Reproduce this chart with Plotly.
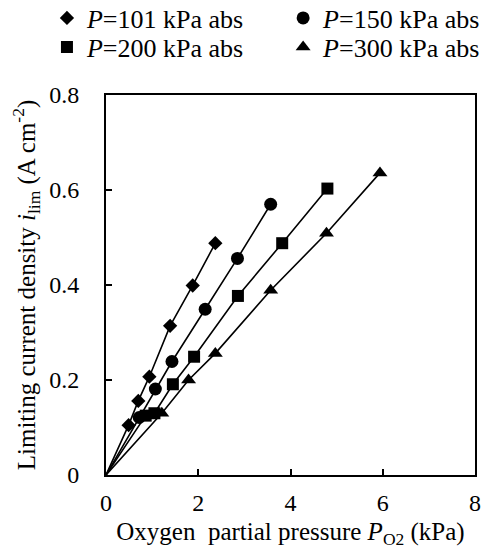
import plotly.graph_objects as go

x101 = [0, 0.49, 0.70, 0.94, 1.39, 1.88, 2.37]
y101 = [0, 0.105, 0.156, 0.207, 0.314, 0.399, 0.488]
x150 = [0, 0.72, 1.07, 1.43, 2.15, 2.85, 3.57]
y150 = [0, 0.121, 0.181, 0.239, 0.349, 0.456, 0.570]
x200 = [0, 0.86, 1.05, 1.45, 1.91, 2.86, 3.82, 4.80]
y200 = [0, 0.125, 0.130, 0.191, 0.249, 0.377, 0.488, 0.603]
x300 = [0, 1.21, 1.79, 2.37, 3.57, 4.78, 5.94]
y300 = [0, 0.130, 0.200, 0.256, 0.389, 0.509, 0.636]

names = ["<i>P</i>=101 kPa abs", "<i>P</i>=150 kPa abs", "<i>P</i>=200 kPa abs", "<i>P</i>=300 kPa abs"]
symbols = ["diamond", "circle", "square", "triangle-up"]
sizes = [11, 13, 12, 13]
legends = ["legend", "legend2", "legend3", "legend4"]
xs = [x101, x150, x200, x300]
ys = [y101, y150, y200, y300]

xticks = [0, 2, 4, 6, 8]
xticktext = ["0", "2", "4", "6", "8"]
yticks = [0, 0.2, 0.4, 0.6, 0.8]
yticktext = ["0", "0.2", "0.4", "0.6", "0.8"]

fig = go.Figure()
for i in range(4):
    msize = [0] + [sizes[i]] * (len(xs[i]) - 1)
    fig.add_trace(go.Scatter(
        x=xs[i], y=ys[i], mode="lines+markers", name=names[i],
        line=dict(color="black", width=1.6),
        marker=dict(symbol=symbols[i], size=msize, color="black", opacity=1, line=dict(width=0)),
        showlegend=False,
    ))
for i in range(4):
    fig.add_trace(go.Scatter(
        x=[None], y=[None], mode="markers", name=names[i], legend=legends[i],
        xaxis="x2", yaxis="y2",
        marker=dict(symbol=symbols[i], size=sizes[i], color="black", opacity=1, line=dict(width=0)),
    ))

FAM = "Liberation Serif, serif"
font = dict(family=FAM, size=25, color="black")
legfont = dict(family=FAM, size=26, color="black")
tickfont = dict(family=FAM, size=24, color="black")

legcommon = dict(orientation="v", yanchor="middle", xanchor="left", xref="paper", yref="paper",
                 font=legfont, itemwidth=30, tracegroupgap=0, bgcolor="rgba(0,0,0,0)")

fig.update_layout(
    width=482, height=541,
    margin=dict(l=98, r=15, t=87, b=74, autoexpand=False),
    paper_bgcolor="white", plot_bgcolor="white",
    font=font,
    showlegend=True,
    legend=dict(x=-0.16, y=1.2026, **legcommon),
    legend2=dict(x=0.48, y=1.2026, **legcommon),
    legend3=dict(x=-0.16, y=1.126, **legcommon),
    legend4=dict(x=0.48, y=1.126, **legcommon),
    xaxis=dict(range=[0, 8], tickvals=xticks, ticktext=xticktext, tickfont=tickfont,
               ticks="outside", ticklen=5, tickwidth=1, tickcolor="rgba(0,0,0,0)",
               showline=True, linecolor="black", linewidth=2, mirror=True,
               showgrid=False, zeroline=False,
               title=dict(text="Oxygen  partial pressure <i>P</i><sub>O2</sub> (kPa)", standoff=10, font=font)),
    yaxis=dict(range=[0, 0.8], tickvals=yticks, ticktext=yticktext, tickfont=tickfont,
               ticks="outside", ticklen=20, tickwidth=1, tickcolor="rgba(0,0,0,0)",
               showline=True, linecolor="black", linewidth=2, mirror=True,
               showgrid=False, zeroline=False,
               title=dict(text="Limiting current density <i>i</i><sub>lim</sub> (A cm<sup>-2</sup>)", standoff=14, font=font)),
    xaxis2=dict(overlaying="x", matches="x", range=[0, 8], tickvals=xticks, side="bottom",
                ticks="inside", ticklen=6, tickwidth=1.5, tickcolor="black", showticklabels=False,
                showline=False, showgrid=False, zeroline=False),
    yaxis2=dict(overlaying="y", matches="y", range=[0, 0.8], tickvals=yticks, side="left",
                ticks="inside", ticklen=6, tickwidth=1.5, tickcolor="black", showticklabels=False,
                showline=False, showgrid=False, zeroline=False),
)

fig.write_html("out.html")
